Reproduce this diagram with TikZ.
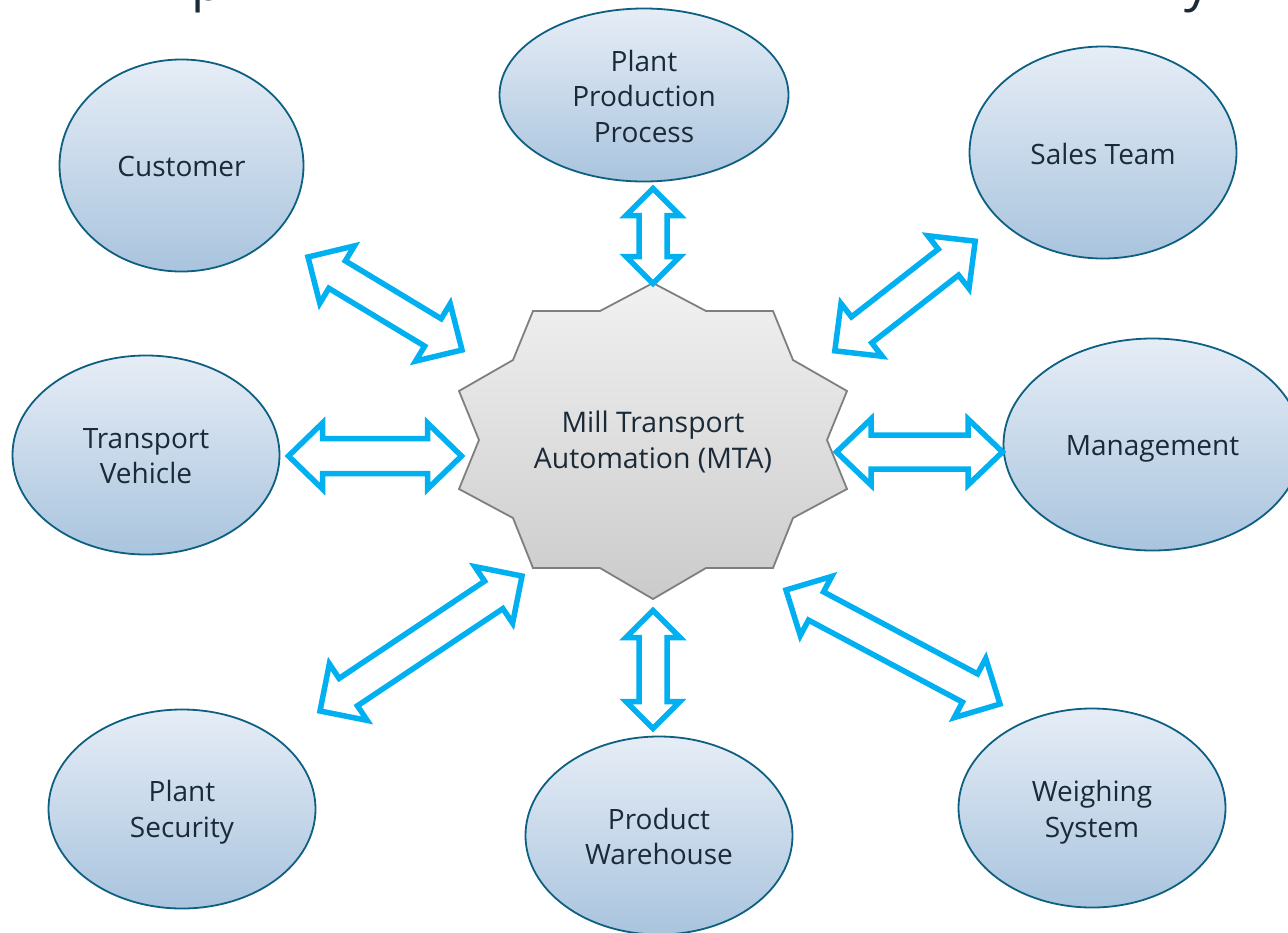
\documentclass[tikz,border=0pt]{standalone}
\usepackage{fontspec}
\setmainfont{Open Sans}
\usetikzlibrary{shapes.geometric,calc}
\definecolor{inkc}{HTML}{1B2A38}
\definecolor{edgeb}{HTML}{0E6082}
\definecolor{cyanb}{HTML}{00B0F0}
\tikzset{
  actor/.style={ellipse,draw=edgeb,line width=1.8pt,top color=ellTop,bottom color=ellBot,
    inner sep=0pt,outer sep=0pt},
  actortext/.style={inner sep=0pt,align=center,text=inkc,font=\fontsize{28}{35.5}\selectfont},
  hub/.style={draw=starEdge,line width=1.8pt,top color=starTop,bottom color=starBot},
  hubtext/.style={align=center,text=inkc,font=\fontsize{28.4}{35.5}\selectfont},
  blockarrow/.style={draw=cyanb,line width=5.5pt,miter limit=10,line join=miter,fill=white},
  titlebit/.style={inner sep=0pt,anchor=base,text=inkc,font=\fontsize{52}{52}\selectfont}
}
\definecolor{ellTop}{HTML}{E6EDF6}
\definecolor{ellBot}{HTML}{A9C4DE}
\definecolor{starTop}{HTML}{F1F1F1}
\definecolor{starBot}{HTML}{CBCBCB}
\definecolor{starEdge}{HTML}{7F7F7F}
% #1,#2 tips; #3 head length; #4 head half width; #5 shaft half width
\newcommand\dblarrow[5]{%
  \coordinate (p1) at ($(#1)!#3pt!(#2)$);
  \coordinate (p2) at ($(#2)!#3pt!(#1)$);
  \draw[blockarrow] (#1) -- ($(p1)!#4pt!90:(#2)$) -- ($(p1)!#5pt!90:(#2)$)
    -- ($(p2)!#5pt!-90:(#1)$) -- ($(p2)!#4pt!-90:(#1)$) -- (#2)
    -- ($(p2)!#4pt!90:(#1)$) -- ($(p2)!#5pt!90:(#1)$)
    -- ($(p1)!#5pt!-90:(#2)$) -- ($(p1)!#4pt!-90:(#2)$) -- cycle;
}
\begin{document}
\begin{tikzpicture}[x=1pt,y=-1pt]
\useasboundingbox (0,0) rectangle (1288,932);
\clip (0,0) rectangle (1288,932);
\fill[white] (0,0) rectangle (1288,932);
% fragments of the cropped title
\node[titlebit] (titlep) at (207,0) {p};
\node[titlebit] (titley) at (1198,0) {y};
% hub
\path[hub] (653,283) -- (706,311) -- (773,311) -- (793,360) -- (847,391) -- (827,440)
  -- (847,489) -- (793,518) -- (773,568) -- (706,568) -- (653,599) -- (600,568)
  -- (533,568) -- (513,518) -- (459,489) -- (479,440) -- (459,391) -- (513,360)
  -- (533,311) -- (600,311) -- cycle;
\node[hubtext] (mta) at (653,442) {Mill Transport\\Automation (MTA)};
% actors
\node[actor,minimum width=244pt,minimum height=212pt,label={[actortext,yshift=-0.5pt]center:Customer}] (customer) at (181.5,165.5) {};
\node[actor,minimum width=289pt,minimum height=173pt,label={[actortext,yshift=-1pt]center:Plant\\Production\\Process}] (plant) at (644,95) {};
\node[actor,minimum width=267pt,minimum height=212pt,label={[actortext,yshift=-1pt]center:Sales Team}] (sales) at (1103,152.5) {};
\node[actor,minimum width=267pt,minimum height=199pt,label={[actortext,yshift=-1pt]center:Transport\\Vehicle}] (vehicle) at (146,455) {};
\node[actor,minimum width=298pt,minimum height=212pt,label={[actortext,yshift=-4pt]center:Management}] (mgmt) at (1152.5,444.5) {};
\node[actor,minimum width=267pt,minimum height=199pt,label={[actortext,yshift=-3pt]center:Plant\\Security}] (security) at (182,809) {};
\node[actor,minimum width=267pt,minimum height=198pt,label={[actortext,yshift=-1pt]center:Product\\Warehouse}] (warehouse) at (659,835.5) {};
\node[actor,minimum width=267pt,minimum height=199pt,label={[actortext,yshift=-4pt]center:Weighing\\System}] (weighing) at (1092,808) {};
% arrow tips
\coordinate (a1) at (308,257);   \coordinate (a2) at (462,350);
\coordinate (b1) at (653,188.5); \coordinate (b2) at (653,283.5);
\coordinate (c1) at (975.2,241.2); \coordinate (c2) at (834.8,350.8);
\coordinate (d1) at (288.5,456); \coordinate (d2) at (461.5,456);
\coordinate (e1) at (836.5,452); \coordinate (e2) at (1002.5,452);
\coordinate (f1) at (522,576);   \coordinate (f2) at (320,711);
\coordinate (g1) at (653,610.5); \coordinate (g2) at (653,728.5);
\coordinate (h1) at (786,590);   \coordinate (h2) at (1000,704);
\dblarrow{a1}{a2}{34}{33.5}{16}
\dblarrow{b1}{b2}{27}{27}{14}
\dblarrow{c1}{c2}{34}{33.5}{16.5}
\dblarrow{d1}{d2}{34}{33}{17.5}
\dblarrow{e1}{e2}{34.5}{33}{17}
\dblarrow{f1}{f2}{34}{34}{16.5}
\dblarrow{g1}{g2}{27}{27}{14}
\dblarrow{h1}{h2}{34}{33.5}{16}
\end{tikzpicture}
\end{document}
